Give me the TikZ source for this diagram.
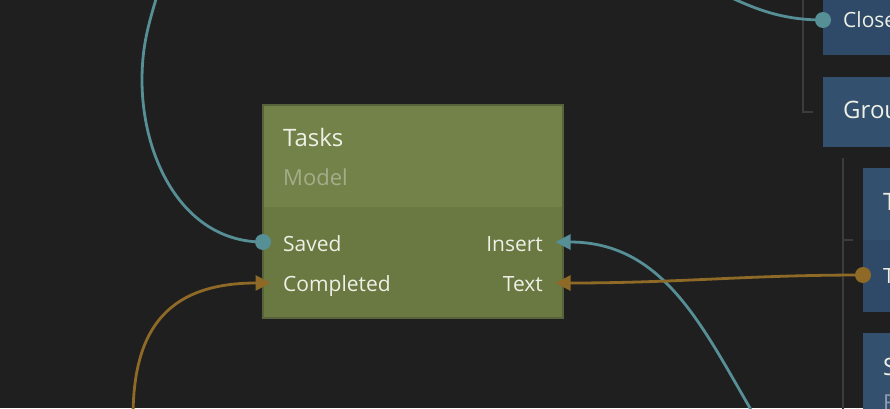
\documentclass[tikz,border=0pt]{standalone}
\usepackage{fontspec}
\setmainfont{Open Sans}
\usetikzlibrary{calc,arrows.meta}

\definecolor{canvas}{HTML}{1F1F1F}
\definecolor{olivehead}{HTML}{738249}
\definecolor{olivebody}{HTML}{6A7841}
\definecolor{oliveedge}{HTML}{58633B}
\definecolor{bluehead}{HTML}{33506E}
\definecolor{bluebody}{HTML}{2E4A68}
\definecolor{wireteal}{HTML}{568F96}
\definecolor{wireamber}{HTML}{8F6A27}
\definecolor{bracketgrey}{HTML}{3C3C3C}
\definecolor{labelwhite}{HTML}{EEF0E6}
\definecolor{olivesub}{HTML}{A4AD8A}
\definecolor{bluesub}{HTML}{8D9DB2}

\tikzset{
  box/.style={rectangle, inner sep=0pt, outer sep=0pt, anchor=south west},
  nodetitle/.style={inner sep=0pt, anchor=base west, text=labelwhite, font=\fontsize{24}{28}\selectfont},
  subtitle/.style={inner sep=0pt, anchor=base west, font=\fontsize{22}{26}\selectfont},
  portlabel/.style={inner sep=0pt, text=labelwhite, font=\fontsize{21}{25}\selectfont},
  wire/.style={line width=2.8pt},
  tealwire/.style={wire, draw=wireteal},
  amberwire/.style={wire, draw=wireamber},
  tiptri/.style={-{Triangle[length=15pt,width=15pt]}, shorten >=-7.5pt},
  bracket/.style={draw=bracketgrey, line width=2pt}
}

\begin{document}
\begin{tikzpicture}[x=1pt,y=1pt]
		%%%%% START %%%%%
		\clip (0,0) rectangle (890,408);
		\fill[canvas] (0,0) rectangle (890,408);
		
		\draw[bracket] (803,412) -- (803,296) -- (813,296);
		\draw[bracket] (843,250) -- (843,-4);
		\draw[bracket] (843,168) -- (853,168);
		
		\node[box, fill=bluebody, minimum width=120pt, minimum height=80pt] (closed) at (823,353) {};
		\node[box, fill=bluehead, minimum width=120pt, minimum height=70pt] (group) at (823,261) {};
		\node[box, fill=bluebody, minimum width=80pt, minimum height=72pt] (textbody) at (863,96) {};
		\node[box, fill=bluehead, minimum width=80pt, minimum height=72pt] (texthead) at (863,168) {};
		\node[box, fill=bluehead, minimum width=80pt, minimum height=85pt] (sort) at (863,-10) {};
		
		\node[portlabel, anchor=base west] (closedlbl) at (843,380) {Close};
		\node[nodetitle] (grouplbl) at (843,290) {Grou};
		\node[nodetitle] (texttitle) at (883,198) {T};
		\node[portlabel, anchor=base west] (textoutlbl) at (883,125) {T};
		\node[nodetitle] (sortlbl) at (883,33) {S};
		\node[subtitle, text=bluesub] (sortsub) at (883,-2) {F};
		
		\node[box, fill=olivebody, minimum width=300pt, minimum height=213pt] (tasks) at (263,90) {};
		\node[box, fill=olivehead, minimum width=300pt, minimum height=102pt] (taskshead) at (263,201) {};
		\draw[oliveedge, line width=1.5pt] (tasks.south west) rectangle (tasks.north east);
		
		\node[nodetitle] (taskstitle) at (283,262) {Tasks};
		\node[subtitle, text=olivesub] (tasksmodel) at (283,223) {Model};
		\node[portlabel, anchor=base west] (savedlbl) at (283,157) {Saved};
		\node[portlabel, anchor=base west] (completedlbl) at (283,116.5) {Completed};
		\node[portlabel, anchor=base east] (insertlbl) at (543,157) {Insert};
		\node[portlabel, anchor=base east] (textlbl) at (543,116.5) {Text};
		
		\coordinate (saved) at (263,166);
		\coordinate (completed) at (263,125);
		\coordinate (insert) at (563,166);
		\coordinate (text) at (563,125);
		\coordinate (closedport) at (823,388);
		\coordinate (textport) at (863,133);
		
		\coordinate (savedsrc) at (165,440);
		\coordinate (closedsrc) at (690,430);
		\coordinate (insertsrc) at (760,-17);
		\coordinate (completedsrc) at (133,-10);
		
		\draw[tealwire] (savedsrc) to[out=-105,in=90] (142,328) to[out=-90,in=180] (saved);
		\draw[tealwire] (closedsrc) to[out=-25,in=180] (closedport);
		\draw[tealwire, tiptri] (insertsrc) to[out=121,in=0] (insert);
		\draw[amberwire, tiptri] (completedsrc) .. controls (133,70) and (160,125) .. (completed);
		\draw[amberwire, tiptri] (textport) to[out=180,in=0] (text);
		
		\fill[wireteal] (saved) circle (8pt);
		\fill[wireteal] (closedport) circle (8pt);
		\fill[wireamber] (textport) circle (8pt);
		
		%%%%% END %%%%%
	\end{tikzpicture}
\end{document}
